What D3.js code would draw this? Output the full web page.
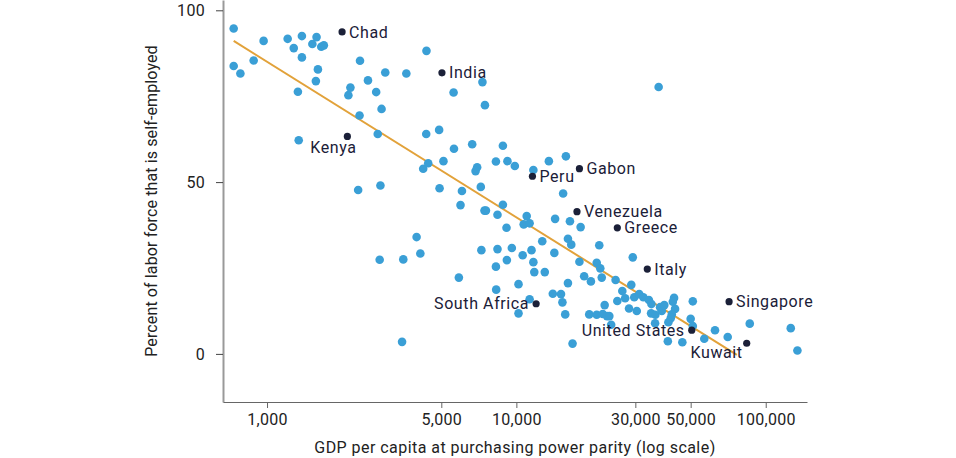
<!DOCTYPE html>
<html lang="en">
<head>
  <meta charset="UTF-8">
  <title>Self-employment vs GDP</title>
  <style>
    body { margin: 0; background: #fff; }
    text { font-family: Roboto, "Noto Sans", sans-serif; }
  </style>
</head>
<body>
  <svg id="svg" width="956" height="458"></svg>

  <script src="https://d3js.org/d3.v7.min.js"></script>
  <script>
    // ------ DATA ------------------------
    // unlabeled countries: GDP per capita (PPP) and % self-employed
    const gdp = [
      735, 735, 782, 884, 969, 1210, 1380, 1580, 1280, 1520, 1650, 1690, 1380, 1600, 1570, 1330, 1340,
      2360, 2160, 2120, 2350, 2540, 2740, 2880, 2980, 3620, 2780, 2320, 2850, 4230,
      4360, 7310, 5600, 7480, 37200, 4350, 4900, 5620, 6650, 8830, 5100, 4430, 8280, 9210, 9860,
      6960, 6860, 11700, 13500, 15800, 15400, 4920, 6050, 7200,
      3980, 4120, 2830, 3520, 3480,
      5970, 7450, 7550, 8400, 8830, 9130, 11000, 10700, 11300, 14300, 16400, 18100,
      12700, 16100, 16600, 14200, 21500, 29300, 7240, 8400, 9590, 11500, 10600, 9160, 8280,
      11700, 11800, 13000, 17900, 21000, 21700, 5880, 18700, 19900, 22000, 25000, 10200, 16100,
      8300, 28900, 26600, 14000, 15100, 11300, 15300, 25400, 27300, 22600, 29700, 31100, 32300,
      34000, 34800, 28300, 30400, 10200, 15700, 19600, 21000, 22200, 23100, 23600, 24000,
      34700, 36100, 36000, 16800,
      37700, 38300, 39200, 42900, 42400, 43300, 42000, 41600, 40700, 51000, 50000, 51000,
      62600, 56700, 70400, 40500, 46300, 86300, 126000, 134000
    ]
    const selfEmployed = [
      94.7, 83.8, 81.6, 85.4, 91.1, 91.7, 92.5, 92.2, 89.0, 90.2, 89.4, 89.8, 86.3, 82.8, 79.4, 76.3, 62.2,
      85.3, 77.5, 75.3, 69.4, 79.6, 76.2, 71.3, 81.9, 81.6, 64.0, 47.7, 49.0, 53.9,
      88.2, 79.1, 76.1, 72.4, 77.7, 64.0, 65.2, 59.7, 61.0, 60.6, 56.1, 55.5, 56.0, 56.1, 54.7,
      54.3, 53.2, 53.5, 56.1, 57.5, 46.7, 48.2, 47.4, 48.6,
      34.0, 29.2, 27.4, 27.5, 3.5,
      43.3, 41.7, 41.7, 40.5, 43.4, 36.7, 40.1, 37.7, 38.0, 39.3, 38.6, 36.9,
      32.8, 33.5, 31.8, 29.4, 31.6, 28.1, 30.2, 30.5, 30.8, 30.2, 28.7, 27.3, 25.4,
      26.7, 23.8, 23.8, 26.8, 26.5, 24.9, 22.2, 22.6, 21.1, 22.2, 21.5, 20.3, 20.6,
      18.7, 20.1, 18.3, 17.5, 17.4, 15.9, 15.0, 15.4, 16.2, 14.2, 16.5, 17.4, 16.5,
      15.7, 14.5, 13.2, 12.5, 11.8, 11.5, 11.5, 11.4, 11.6, 11.0, 11.0, 8.5,
      11.8, 11.4, 8.9, 3.0,
      13.6, 12.5, 14.2, 16.3, 15.2, 13.1, 11.5, 10.4, 9.2, 15.3, 10.2, 8.1,
      6.9, 4.4, 4.9, 3.7, 3.4, 8.8, 7.5, 1.0
    ]

    // highlighted countries
    const labelNames = ['Chad', 'India', 'Kenya', 'Peru', 'Gabon', 'Venezuela', 'Greece',
      'Italy', 'South Africa', 'United States', 'Singapore', 'Kuwait']
    const labelGdp = [2000, 5030, 2100, 11600, 17900, 17500, 25400, 33500, 12000, 50500, 71300, 83900]
    const labelPct = [93.7, 81.8, 63.3, 51.7, 53.9, 41.4, 36.7, 24.7, 14.6, 6.9, 15.2, 3.1]

    // fitted trend line endpoints
    const trendGdp = [735, 76600]
    const trendPct = [91.1, -0.3]

    const xTicks = [1000, 5000, 10000, 30000, 50000, 100000]
    const yTicks = [0, 50, 100]

    // ------ SCALES ------------------------
    const margin = { left: 223, right: 807, top: 0, bottom: 402 }
    const x = d3.scaleLog().domain([666, 146400]).range([margin.left, margin.right])
    const y = d3.scaleLinear().domain([-14, 103]).range([margin.bottom, margin.top])

    const svg = d3.select('#svg')

    // ------ AXES ------------------------
    const yAxis = svg.append('g')
      .attr('transform', `translate(${margin.left},0)`)
      .call(d3.axisLeft(y).tickValues(yTicks).tickSize(7).tickSizeOuter(0).tickPadding(11))
    yAxis.select('.domain').attr('stroke', '#999').attr('stroke-width', 2)
    yAxis.selectAll('.tick line').attr('stroke', '#444')
    yAxis.selectAll('.tick text').attr('font-size', 16).attr('fill', '#222')
      .style('font-family', 'Roboto, sans-serif').style('letter-spacing', '0.3px')

    const xAxis = svg.append('g')
      .attr('transform', `translate(0,${margin.bottom})`)
      .call(d3.axisBottom(x).tickValues(xTicks).tickFormat(d3.format(',')).tickSize(6).tickSizeOuter(0).tickPadding(6))
    xAxis.select('.domain').attr('stroke', '#666').attr('stroke-width', 1)
    xAxis.selectAll('.tick line').attr('stroke', '#666')
    xAxis.selectAll('.tick text').attr('font-size', 16).attr('fill', '#222')
      .style('font-family', 'Roboto, sans-serif').style('letter-spacing', '0.3px')

    svg.append('text')
      .attr('x', 515).attr('y', 453)
      .attr('text-anchor', 'middle')
      .attr('font-size', 16).attr('fill', '#222')
      .style('letter-spacing', '0.45px')
      .text('GDP per capita at purchasing power parity (log scale)')

    svg.append('text')
      .attr('transform', 'translate(157,201) rotate(-90)')
      .attr('text-anchor', 'middle')
      .attr('font-size', 16).attr('fill', '#222')
      .style('letter-spacing', '0.12px')
      .text('Percent of labor force that is self-employed')

    // ------ TREND LINE ------------------------
    svg.append('line')
      .attr('x1', x(trendGdp[0])).attr('y1', y(trendPct[0]))
      .attr('x2', x(trendGdp[1])).attr('y2', y(trendPct[1]))
      .attr('stroke', '#e2a23a').attr('stroke-width', 2)

    // ------ POINTS ------------------------
    svg.append('g')
      .selectAll('circle')
      .data(d3.range(gdp.length))
      .enter()
      .append('circle')
      .attr('cx', i => x(gdp[i]))
      .attr('cy', i => y(selfEmployed[i]))
      .attr('r', 4.3)
      .attr('fill', '#3a9fd6')

    const labeled = svg.append('g')
    labeled.selectAll('circle')
      .data(d3.range(labelNames.length))
      .enter()
      .append('circle')
      .attr('cx', i => x(labelGdp[i]))
      .attr('cy', i => y(labelPct[i]))
      .attr('r', 3.6)
      .attr('fill', '#1b2038')

    // label placement
    const toLeft = ['South Africa', 'United States']
    const below = { 'Kenya': [-14, 17, 'middle'], 'Kuwait': [-4, 15, 'end'] }

    labeled.selectAll('text')
      .data(d3.range(labelNames.length))
      .enter()
      .append('text')
      .attr('font-size', 16)
      .attr('fill', '#1b2038')
      .style('letter-spacing', '0.6px')
      .each(function (i) {
        const name = labelNames[i]
        const cx = x(labelGdp[i]), cy = y(labelPct[i])
        const t = d3.select(this).text(name)
        if (below[name]) {
          const b = below[name]
          t.attr('x', cx + b[0]).attr('y', cy + b[1]).attr('text-anchor', b[2])
        } else if (toLeft.includes(name)) {
          t.attr('x', cx - 7).attr('y', cy).attr('dy', '0.35em').attr('text-anchor', 'end')
        } else {
          t.attr('x', cx + 7).attr('y', cy).attr('dy', '0.35em')
        }
      })
  </script>
</body>
</html>
